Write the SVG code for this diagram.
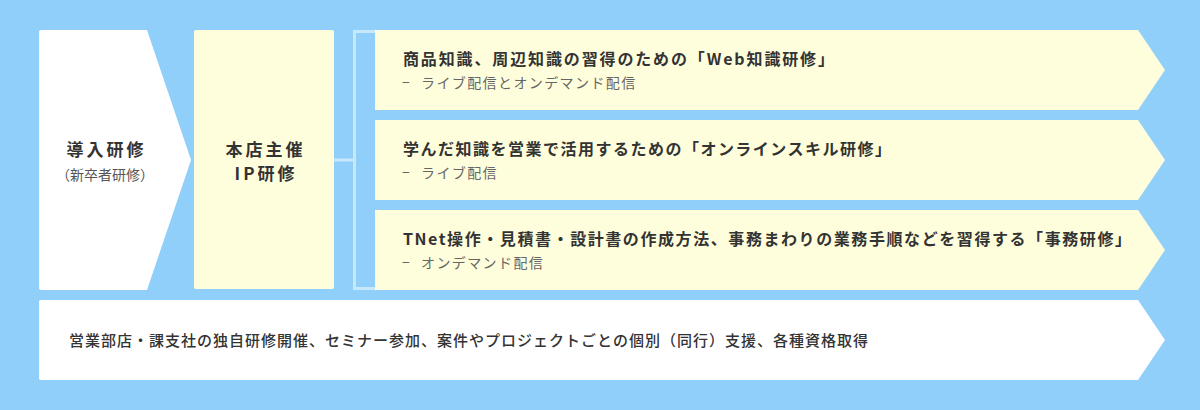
<svg xmlns="http://www.w3.org/2000/svg" width="1200" height="410" viewBox="0 0 1200 410">
<style>
.t{font-family:"Noto Sans CJK JP","Noto Sans",sans-serif;}
.main{font-size:16px;font-weight:700;fill:#333;}
.sub{font-size:14px;fill:#666;letter-spacing:1.4px;}
.big{font-size:17px;font-weight:700;fill:#333;letter-spacing:3px;}
.note{font-size:14px;fill:#555;}
.yel{fill:#FFFEDC;}
.wht{fill:#FFFFFF;}
</style>
<rect x="0" y="0" width="1200" height="410" fill="#90CFFA"/>
<g id="intro">
<path class="wht" d="M41,30 H147 L191,160 L147,290 H41 Q39,290 39,288 V32 Q39,30 41,30 Z"/>
<text class="t big" x="106.5" y="156" text-anchor="middle">導入研修</text>
<text class="t note" x="105" y="180" text-anchor="middle">（新卒者研修）</text>
</g>
<g id="ip">
<rect class="yel" x="194" y="30" width="140" height="259" rx="2"/>
<text class="t big" x="265.5" y="156" text-anchor="middle">本店主催</text>
<text class="t big" x="266" y="180" text-anchor="middle">IP研修</text>
</g>
<g id="connectors" fill="none" stroke="#C6E7FC" stroke-width="3">
<path d="M334,160 H354.5"/>
<path d="M375,31.5 H354.5 V288.5 H375"/>
</g>
<g id="web">
<path class="yel" d="M375,30 H1138 L1165,70 L1138,110 H375 Z"/>
<text class="t main" x="403" y="65" textLength="431" lengthAdjust="spacing">商品知識、周辺知識の習得のための「Web知識研修」</text>
<text class="t sub" x="402" y="88">−<tspan x="421">ライブ配信とオンデマンド配信</tspan></text>
</g>
<g id="online">
<path class="yel" d="M375,120 H1138 L1165,160 L1138,200 H375 Z"/>
<text class="t main" x="403" y="155" textLength="488" lengthAdjust="spacing">学んだ知識を営業で活用するための「オンラインスキル研修」</text>
<text class="t sub" x="402" y="178">−<tspan x="421">ライブ配信</tspan></text>
</g>
<g id="jimu">
<path class="yel" d="M375,210 H1138 L1165,250 L1138,290 H375 Z"/>
<text class="t main" x="403" y="245" textLength="728" lengthAdjust="spacing">TNet操作・見積書・設計書の作成方法、事務まわりの業務手順などを習得する「事務研修」</text>
<text class="t sub" x="402" y="268">−<tspan x="421">オンデマンド配信</tspan></text>
</g>
<g id="other">
<path class="wht" d="M41,300 H1138 L1165,340 L1138,380 H41 Q39,380 39,378 V302 Q39,300 41,300 Z"/>
<text class="t main" x="69" y="346" style="font-size:15px;font-weight:500" textLength="799" lengthAdjust="spacing">営業部店・課支社の独自研修開催、セミナー参加、案件やプロジェクトごとの個別（同行）支援、各種資格取得</text>
</g>
</svg>
